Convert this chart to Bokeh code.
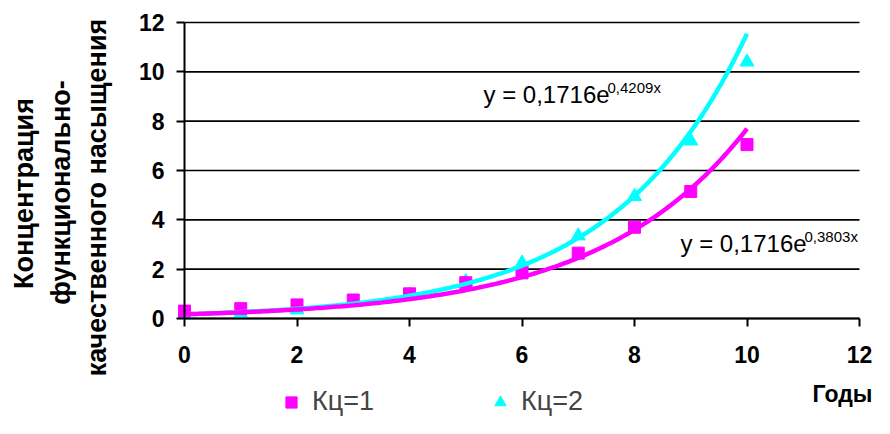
import numpy as np
from bokeh.plotting import figure
from bokeh.models import Range1d, Label, Legend, LegendItem, FixedTicker
from bokeh.embed import file_html
from bokeh.resources import INLINE

# ---- data ----
years = [0, 1, 2, 3, 4, 5, 6, 7, 8, 9, 10]
kc1 = [0.3, 0.4, 0.55, 0.75, 1.0, 1.45, 1.85, 2.65, 3.7, 5.15, 7.05]
kc2 = [0.15, 0.2, 0.35, 0.65, 0.95, 1.5, 2.25, 3.35, 4.95, 7.2, 10.4]
series_names = ["Кц=1", "Кц=2"]
trend_a = [0.1716, 0.1716]
trend_b = [0.3803, 0.4209]
eq_texts = ["y = 0,1716e", "y = 0,1716e"]
eq_sup = ["0,3803x", "0,4209x"]
x_ticks = [0, 2, 4, 6, 8, 10, 12]
y_ticks = [0, 2, 4, 6, 8, 10, 12]
y_title = ["Концентрация", "функционально-", "качественного насыщения"]
x_title = "Годы"

MAG = "#FF00FF"
CYA = "#00FFFF"
FONT = "Liberation Sans"

W, H = 874, 418
# pixel positions of the plotting area (axes 0..12) inside the canvas
L, R, T, B = 184, 859, 22, 318
UX = (R - L) / 12.0
UY = (B - T) / 12.0


def dx(px):
    return (px - L) / UX


def dy(py):
    return (B - py) / UY


p = figure(width=W, height=H, output_backend="svg", toolbar_location=None,
           x_range=Range1d(dx(0), dx(W)), y_range=Range1d(dy(H), dy(0)),
           min_border=0, min_border_left=0, min_border_right=0,
           min_border_top=0, min_border_bottom=0)
p.outline_line_color = None
p.background_fill_color = "white"
p.border_fill_color = "white"
p.xgrid.grid_line_color = None
p.ygrid.grid_line_color = None

# horizontal gridlines limited to the axis span
p.segment(x0=x_ticks[0], x1=x_ticks[-1], y0=y_ticks, y1=y_ticks,
          line_color="black", line_width=1.6)

for ax, ticks in ((p.xaxis[0], x_ticks), (p.yaxis[0], y_ticks)):
    ax.ticker = FixedTicker(ticks=ticks)
    ax.fixed_location = 0
    ax.bounds = (ticks[0], ticks[-1])
    ax.axis_line_color = "black"
    ax.axis_line_width = 2
    ax.major_tick_line_color = "black"
    ax.major_tick_line_width = 2
    ax.major_tick_out = 8
    ax.major_tick_in = 0
    ax.minor_tick_line_color = None
    ax.major_label_text_font = FONT
    ax.major_label_text_font_style = "bold"
    ax.major_label_text_font_size = "23px"
    ax.major_label_text_color = "black"
p.yaxis.major_label_standoff = 12
p.xaxis.major_label_standoff = 19

# markers
r2 = p.scatter(years, kc2, marker="triangle", size=14, color=CYA)
r1 = p.scatter(years, kc1, marker="square", size=12, color=MAG)

# trendlines
xs = np.linspace(0, 10, 200)
p.line(xs, trend_a[1] * np.exp(trend_b[1] * xs), line_color=CYA, line_width=4.5)
p.line(xs, trend_a[0] * np.exp(trend_b[0] * xs), line_color=MAG, line_width=4.5)

# equations
p.add_layout(Label(x=dx(483), y=dy(107), text=eq_texts[1], text_font=FONT,
                   text_font_size="24px", text_color="black"))
p.add_layout(Label(x=dx(607), y=dy(95), text=eq_sup[1], text_font=FONT,
                   text_font_size="15px", text_color="black"))
p.add_layout(Label(x=dx(680), y=dy(256), text=eq_texts[0], text_font=FONT,
                   text_font_size="24px", text_color="black"))
p.add_layout(Label(x=dx(804), y=dy(244), text=eq_sup[0], text_font=FONT,
                   text_font_size="15px", text_color="black"))

# y title (three rotated lines)
for txt, px, py in zip(y_title, [23, 60, 96], [193, 192, 197]):
    p.add_layout(Label(x=dx(px), y=dy(py), text=txt,
                       angle=np.pi / 2, text_align="center", text_baseline="middle",
                       text_font=FONT, text_font_style="bold", text_font_size="27px",
                       text_color="black"))

# x title
p.add_layout(Label(x=dx(872), y=dy(393), text=x_title,
                   text_align="right", text_baseline="middle", text_font=FONT,
                   text_font_style="bold", text_font_size="23px", text_color="black"))

legend = Legend(items=[LegendItem(label=series_names[0], renderers=[r1]),
                       LegendItem(label=series_names[1], renderers=[r2])],
                location=(277, H - 417), orientation="horizontal",
                glyph_height=28, glyph_width=28, label_standoff=7, spacing=112,
                padding=0, margin=0, border_line_color=None,
                background_fill_alpha=0, label_text_font=FONT,
                label_text_font_size="27px", label_text_baseline="middle",
                label_height=28)
p.add_layout(legend)

open("out.html", "w").write(file_html(p, INLINE))
